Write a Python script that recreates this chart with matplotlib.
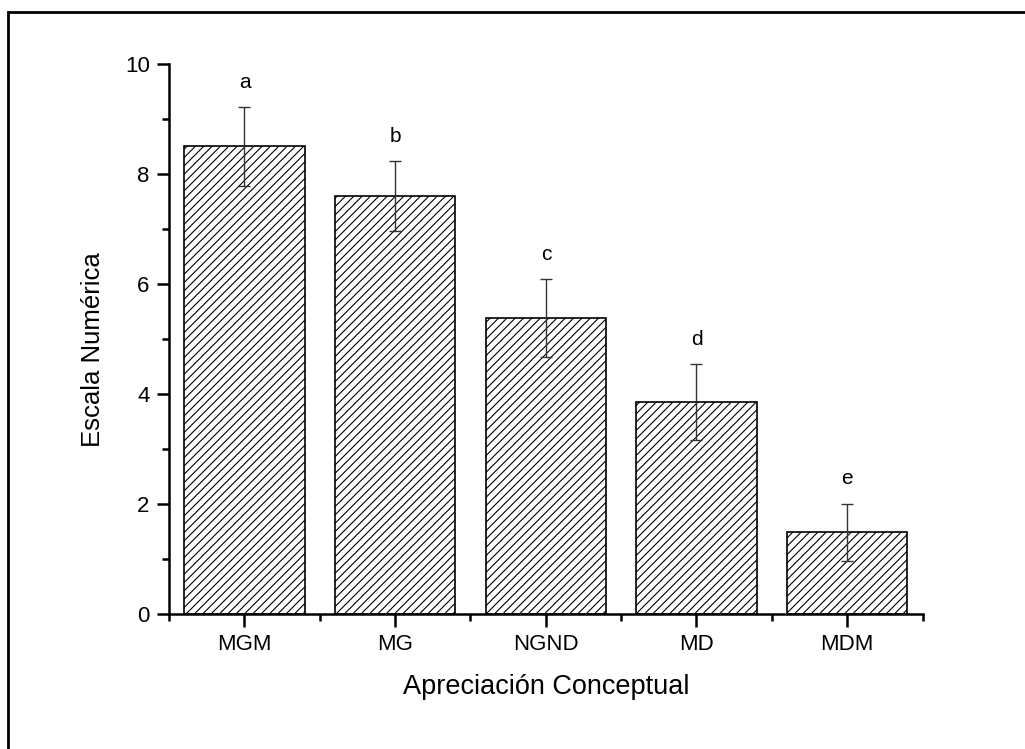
import matplotlib
matplotlib.use('Agg')
import matplotlib.pyplot as plt
import matplotlib.patches as mpatches
from matplotlib.ticker import MultipleLocator

plt.rcParams['font.family'] = ['Liberation Sans', 'DejaVu Sans']
plt.rcParams['hatch.linewidth'] = 0.8

# Datos
categorias = ['MGM', 'MG', 'NGND', 'MD', 'MDM']
medias = [8.5, 7.6, 5.38, 3.86, 1.49]
errores = [0.71, 0.63, 0.71, 0.69, 0.52]
letras = ['a', 'b', 'c', 'd', 'e']

fig = plt.figure(figsize=(10.25, 7.49), dpi=100)
ax = fig.add_axes([0.165, 0.180, 0.735, 0.7346])

pos = list(range(len(categorias)))
ax.bar(pos, medias, width=0.8, color='white', edgecolor='black',
       linewidth=1.2, hatch='////', zorder=2)
ax.errorbar(pos, medias, yerr=errores, fmt='none', ecolor='#333333',
            elinewidth=1.0, capsize=4, capthick=1.0, zorder=3)

for i in range(len(categorias)):
    ax.text(pos[i], medias[i] + errores[i] + 0.45, letras[i],
            ha='center', va='center', fontsize=15)

ax.set_xlim(-0.5, 4.5)
ax.set_ylim(0, 10)
ax.set_xticks(pos)
ax.set_xticklabels(categorias)
ax.xaxis.set_minor_locator(MultipleLocator(1, offset=0.5))
ax.yaxis.set_major_locator(MultipleLocator(2))
ax.yaxis.set_minor_locator(MultipleLocator(1))

for s in ['top', 'right']:
    ax.spines[s].set_visible(False)
for s in ['left', 'bottom']:
    ax.spines[s].set_linewidth(1.8)

ax.tick_params(which='major', direction='out', length=9, width=1.8,
               labelsize=16, pad=5)
ax.tick_params(which='minor', direction='out', length=5, width=1.8)

ax.set_xlabel('Apreciación Conceptual', fontsize=19.5, labelpad=14)
ax.set_ylabel('Escala Numérica', fontsize=18.5)
ax.yaxis.set_label_coords(-0.085, 0.48)

# marco exterior
fig.patches.append(mpatches.Rectangle((8 / 1025, -0.1), 1.2, 1 - 12 / 749 + 0.1,
                                      transform=fig.transFigure, fill=False,
                                      edgecolor='black', linewidth=2.0))

fig.savefig('out.png', dpi=100)
